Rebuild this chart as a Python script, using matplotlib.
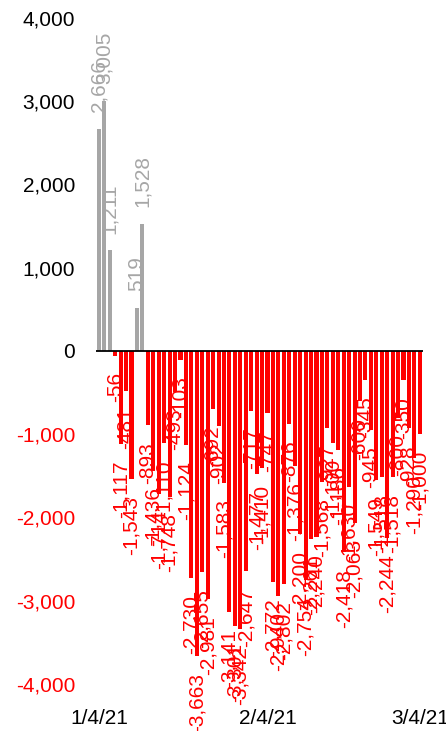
import matplotlib.pyplot as plt
import matplotlib.dates as mdates
import numpy as np
import pandas as pd

# daily values, 1/4/21 onwards
START_DATE = "2021-01-04"
VALUES = [
    2666, 3005, 1211, -56, -1117, -481, -1543, 519, 1528, -893,
    -1436, -1714, -1110, -1748, -493, -103, -1124, -2730, -3663, -2655,
    -2981, -692, -902, -1583, -3141, -3301, -3342, -2647, -717, -1477,
    -1410, -747, -2772, -2940, -2802, -876, -1376, -2200, -2754, -2261,
    -2240, -1568, -927, -1100, -1186, -2418, -1630, -2063, -600, -345,
    -945, -1549, -1518, -2244, -1518, -800, -350, -928, -1290, -1000,
]
X_TICK_DATES = ["2021-01-04", "2021-02-04", "2021-03-04"]
X_TICK_LABELS = ["1/4/21", "2/4/21", "3/4/21"]
Y_TICKS = [-4000, -3000, -2000, -1000, 0, 1000, 2000, 3000, 4000]

GREY = "#A6A6A6"
RED = "#FF0000"

plt.rcParams["font.family"] = ["Liberation Sans", "DejaVu Sans"]

dates = pd.date_range(START_DATE, periods=len(VALUES), freq="D")
x = mdates.date2num(dates)
vals = np.array(VALUES)
colors = [GREY if v >= 0 else RED for v in vals]

fig = plt.figure(figsize=(4.46, 7.31), dpi=100)
ax = fig.add_axes([0.215, 0.0643, 0.733, 0.9111])

ax.bar(x, vals, width=0.75, color=colors, zorder=2)
ax.axhline(0, color="black", linewidth=1.3, zorder=3)

# rotated data labels at the outside end of each bar
for xi, v, c in zip(x, vals, colors):
    off = 12 if v >= 0 else -12
    ax.annotate(f"{v:,}", (xi, v), xytext=(0, off), textcoords="offset points",
                rotation=90, ha="center", va="bottom" if v >= 0 else "top",
                color=c, fontsize=15, zorder=4)

ax.set_ylim(-4000, 4000)
ax.set_xlim(x[0] - 0.55, x[-1] + 0.55)
ax.set_yticks(Y_TICKS)
ax.set_yticklabels([f"{t:,}" for t in Y_TICKS])
for lbl, t in zip(ax.get_yticklabels(), Y_TICKS):
    lbl.set_color("black" if t >= 0 else RED)

ax.set_xticks(mdates.date2num(pd.to_datetime(X_TICK_DATES)))
ax.set_xticklabels(X_TICK_LABELS)

ax.tick_params(axis="both", length=0, labelsize=15)
ax.tick_params(axis="y", pad=15)
ax.tick_params(axis="x", pad=18)
for s in ax.spines.values():
    s.set_visible(False)

fig.savefig("out.png", dpi=100)
